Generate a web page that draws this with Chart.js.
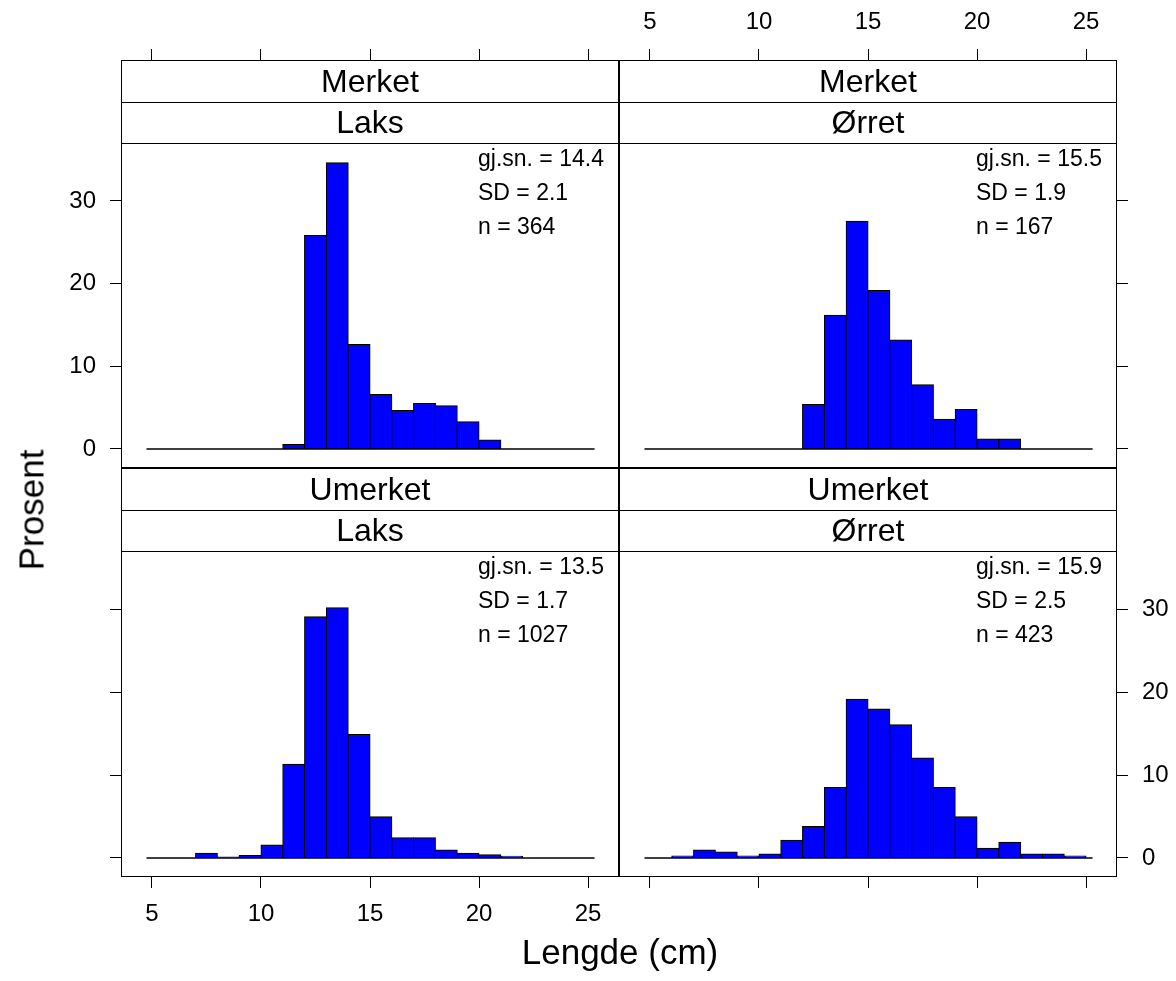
<!DOCTYPE html>
<html>
<head>
<meta charset="utf-8">
<title>Lengdefordeling</title>
<script src="https://cdn.jsdelivr.net/npm/chart.js@4.4.1/dist/chart.umd.min.js"></script>
<style>
  body { margin: 0; background: #fff; }
  #wrap { position: relative; width: 1176px; height: 981px; font-family: "Liberation Sans", Arial, Helvetica, sans-serif; }
  #wrap canvas { position: absolute; left: 0; top: 0; }
  .axtitle { position: absolute; font-size: 35px; color: #000; white-space: nowrap; line-height: 1; }
  #xtitle { left: 620px; top: 951px; transform: translate(-50%, -50%); }
  #ytitle { left: 31px; top: 510px; transform: translate(-50%, -50%) rotate(-90deg); }
</style>
</head>
<body>
<div id="wrap">
  <canvas id="tl" width="1176" height="981"></canvas>
  <canvas id="tr" width="1176" height="981"></canvas>
  <canvas id="bl" width="1176" height="981"></canvas>
  <canvas id="br" width="1176" height="981"></canvas>
  <div class="axtitle" id="xtitle">Lengde (cm)</div>
  <div class="axtitle" id="ytitle">Prosent</div>
</div>
<script>
// 1 cm length classes, lower edge of each class
const binStarts = [5, 6, 7, 8, 9, 10, 11, 12, 13, 14, 15, 16, 17, 18, 19, 20, 21, 22, 23, 24];

// percent of fish per length class
const laksMerket   = [0, 0, 0, 0, 0, 0, 0.55, 25.82, 34.62, 12.64, 6.59, 4.67, 5.49, 5.22, 3.30, 1.10, 0, 0, 0, 0];
const orretMerket  = [0, 0, 0, 0, 0, 0, 0, 5.39, 16.17, 27.54, 19.16, 13.17, 7.78, 3.59, 4.79, 1.20, 1.20, 0, 0, 0];
const laksUmerket  = [0, 0, 0.58, 0.10, 0.29, 1.56, 11.29, 29.11, 30.18, 14.90, 4.97, 2.43, 2.43, 0.97, 0.58, 0.39, 0.19, 0, 0, 0];
const orretUmerket = [0, 0.24, 0.95, 0.71, 0.24, 0.47, 2.13, 3.78, 8.51, 19.15, 17.97, 16.08, 12.06, 8.51, 4.96, 1.18, 1.89, 0.47, 0.47, 0.24];

const meanValues = [14.4, 15.5, 13.5, 15.9];
const sdValues = [2.1, 1.9, 1.7, 2.5];
const nValues = [364, 167, 1027, 423];

const groupNames = ['Merket', 'Merket', 'Umerket', 'Umerket'];
const speciesNames = ['Laks', 'Ørret', 'Laks', 'Ørret'];

const xTicks = [5, 10, 15, 20, 25];
const yTicks = [0, 10, 20, 30];
const baselineRange = [4.75, 25.3];

const FONT = '"Liberation Sans", Arial, Helvetica, sans-serif';
const W = 1176, H = 981;
const TICK = 11;
const STRIP_H = 41.5;

// panel frames (chart area incl. strips) and which sides carry ticks / labels
const panels = [
  { id: 'tl', series: laksMerket,   area: { l: 121, t: 60,  r: 619,  b: 468 }, x: 'top',    xLab: false, y: 'left',  yLab: true  },
  { id: 'tr', series: orretMerket,  area: { l: 619, t: 60,  r: 1117, b: 468 }, x: 'top',    xLab: true,  y: 'right', yLab: false },
  { id: 'bl', series: laksUmerket,  area: { l: 121, t: 468, r: 619,  b: 877 }, x: 'bottom', xLab: true,  y: 'left',  yLab: false },
  { id: 'br', series: orretUmerket, area: { l: 619, t: 468, r: 1117, b: 877 }, x: 'bottom', xLab: false, y: 'right', yLab: true  }
];

const X_AXIS_H = 50, Y_AXIS_W = 70;

function makePanel(p, k) {
  const xh = p.xLab ? X_AXIS_H : TICK;
  const yw = p.yLab ? Y_AXIS_W : TICK;
  const pad = {
    left: p.area.l - (p.y === 'left' ? yw : 0),
    right: W - p.area.r - (p.y === 'right' ? yw : 0),
    top: p.area.t - (p.x === 'top' ? xh : 0),
    bottom: H - p.area.b - (p.x === 'bottom' ? xh : 0)
  };

  const deco = {
    id: 'deco' + k,
    afterDraw(chart) {
      const ctx = chart.ctx;
      const a = chart.chartArea;
      ctx.save();
      ctx.strokeStyle = '#000';
      ctx.lineWidth = 1;
      // strips: white boxes, then labels and dividers
      ctx.fillStyle = '#fff';
      ctx.fillRect(a.left, a.top, a.right - a.left, 2 * STRIP_H);
      ctx.font = '32px ' + FONT;
      ctx.textAlign = 'center';
      ctx.textBaseline = 'middle';
      ctx.fillStyle = '#000';
      [groupNames[k], speciesNames[k]].forEach((label, i) => {
        const y0 = a.top + i * STRIP_H;
        ctx.fillText(label, (a.left + a.right) / 2, y0 + STRIP_H / 2 + 2);
        ctx.beginPath();
        ctx.moveTo(a.left, Math.round(y0 + STRIP_H) + 0.5);
        ctx.lineTo(a.right, Math.round(y0 + STRIP_H) + 0.5);
        ctx.stroke();
      });
      // frame
      ctx.strokeRect(a.left + 0.5, a.top + 0.5, a.right - a.left - 1, a.bottom - a.top - 1);
      // summary text
      const dataTop = a.top + 2 * STRIP_H;
      ctx.font = '23px ' + FONT;
      ctx.textAlign = 'left';
      ctx.textBaseline = 'alphabetic';
      const lines = ['gj.sn. = ' + meanValues[k].toFixed(1), 'SD = ' + sdValues[k].toFixed(1), 'n = ' + nValues[k]];
      lines.forEach((s, i) => ctx.fillText(s, a.right - 141, dataTop + 23 + i * 34));
      ctx.restore();
    }
  };

  const gridOpts = { display: true, drawOnChartArea: false, drawTicks: true, tickLength: TICK, color: '#000', lineWidth: 1, offset: false };

  return new Chart(document.getElementById(p.id), {
    type: 'bar',
    data: {
      datasets: [
        {
          type: 'line',
          data: baselineRange.map(v => ({ x: v, y: 0 })),
          borderColor: '#000',
          borderWidth: 1.5,
          pointRadius: 0,
          order: 1
        },
        {
          type: 'bar',
          data: binStarts.map((b, i) => ({ x: b + 0.5, y: p.series[i] })),
          backgroundColor: '#0000ff',
          borderColor: '#000',
          borderWidth: 1,
          borderSkipped: false,
          inflateAmount: 0.5,
          barPercentage: 1,
          categoryPercentage: 1,
          order: 0
        }
      ]
    },
    options: {
      responsive: false,
      animation: false,
      layout: { padding: pad },
      plugins: { legend: { display: false }, tooltip: { enabled: false } },
      scales: {
        x: {
          type: 'linear',
          position: p.x,
          min: 3.58,
          max: 26.42,
          offset: false,
          grid: gridOpts,
          border: { display: false },
          ticks: { display: p.xLab, color: '#000', font: { family: FONT, size: 24 }, padding: 12, maxRotation: 0, autoSkip: false },
          afterBuildTicks: s => { s.ticks = xTicks.map(v => ({ value: v })); },
          afterFit: s => { s.height = xh; }
        },
        y: {
          type: 'linear',
          position: p.y,
          min: -2.3,
          max: 47.05,
          grid: gridOpts,
          border: { display: false },
          ticks: { display: p.yLab, color: '#000', font: { family: FONT, size: 24 }, padding: 14 },
          afterBuildTicks: s => { s.ticks = yTicks.map(v => ({ value: v })); },
          afterFit: s => { s.width = yw; }
        }
      }
    },
    plugins: [deco]
  });
}

panels.forEach(makePanel);
</script>
</body>
</html>
